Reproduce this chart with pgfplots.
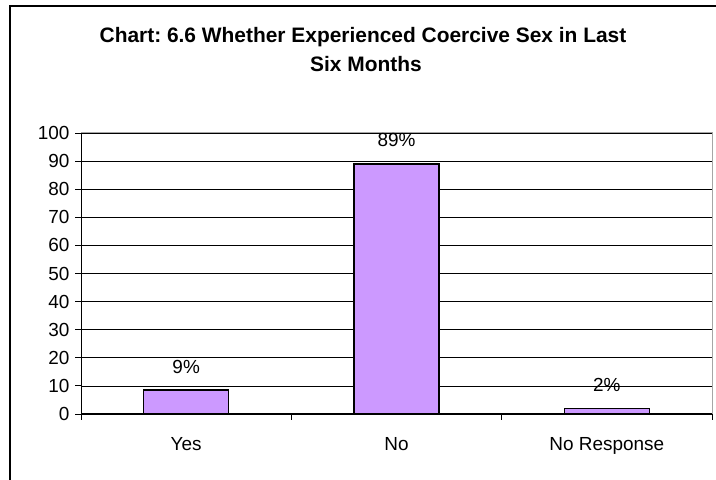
\documentclass[border=0pt]{standalone}
\usepackage{pgfplots}
\pgfplotsset{compat=1.18}
\usepackage{fontspec}
\setmainfont{Liberation Sans}
\definecolor{barfill}{RGB}{204,153,255}
\frenchspacing
\begin{document}
\begin{tikzpicture}[x=1bp,y=1bp]
\useasboundingbox (0,0) rectangle (716,480);
\draw[line width=2bp] (10,0) -- (10,474) -- (716,474);
\node[font=\fontsize{21}{24}\selectfont\bfseries, anchor=base] at (363,437) {Chart: 6.6 Whether Experienced Coercive Sex in Last};
\node[font=\fontsize{21}{24}\selectfont\bfseries, anchor=base] at (366,408) {Six Months};
\begin{axis}[
  at={(81bp,66bp)}, anchor=south west,
  scale only axis, width=631bp, height=281bp,
  xmin=-0.5, xmax=2.5, ymin=0, ymax=100,
  ytick={0,10,...,100},
  xtick={-0.5,0.5,1.5,2.5},
  x tick label as interval=true,
  xticklabels={Yes,No,No Response},
  axis lines=left, axis line style={-, black, line width=1bp},
  tick align=outside, major tick length=6bp,
  tick style={black, line width=0.8bp},
  ymajorgrids, grid style={black, line width=0.6bp},
  tick label style={font=\fontsize{19}{22}\selectfont},
  /pgf/number format/assume math mode=true,
  yticklabel style={xshift=-2bp},
  xticklabel style={yshift=-14bp},
  ybar, bar width=85bp,
  nodes near coords, point meta=explicit symbolic,
  every node near coord/.append style={font=\fontsize{19}{22}\selectfont, anchor=base, yshift=17bp},
  clip=false,
]
\addplot[fill=barfill, draw=black, line width=1.3bp] coordinates {(0,8.5) [9\%] (1,89) [89\%] (2,2) [2\%]};
\draw[gray!70, line width=1bp] (rel axis cs:0,1) -- (rel axis cs:1,1) -- (rel axis cs:1,0);
\end{axis}
\end{tikzpicture}
\end{document}
